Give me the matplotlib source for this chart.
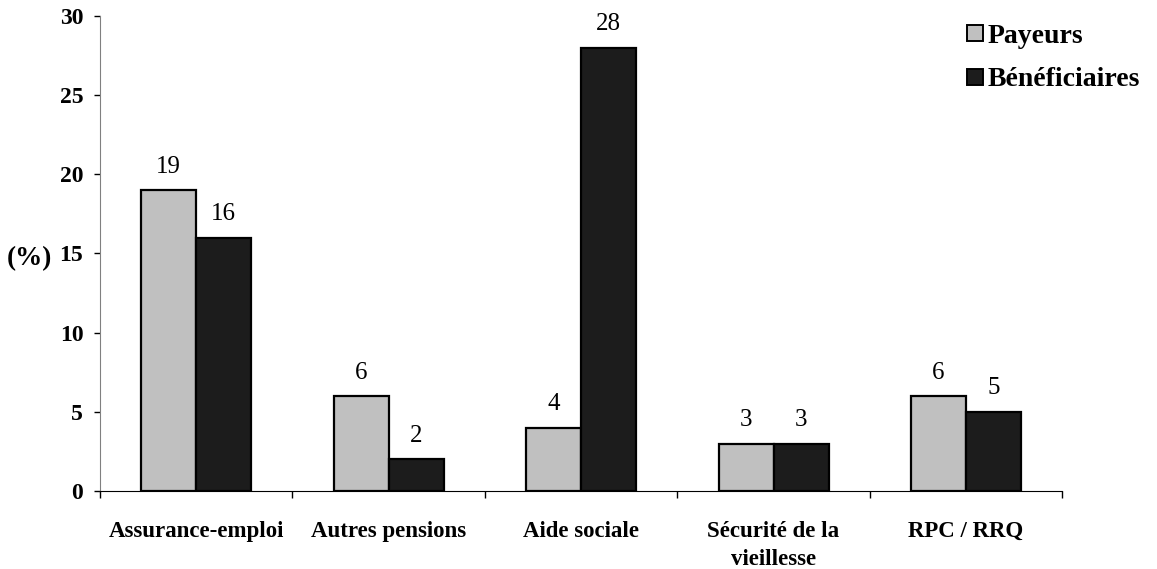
import numpy as np
import matplotlib
matplotlib.use("Agg")
import matplotlib.pyplot as plt
from matplotlib.lines import Line2D

plt.rcParams['font.family'] = ['Liberation Serif', 'DejaVu Serif']

categories = ['Assurance-emploi', 'Autres pensions', 'Aide sociale',
              'Sécurité de la\nvieillesse', 'RPC / RRQ']
payeurs = [19, 6, 4, 3, 6]
beneficiaires = [16, 2, 28, 3, 5]
series_names = ['Payeurs', 'Bénéficiaires']
yticks = [0, 5, 10, 15, 20, 25, 30]

grey = '#c0c0c0'
dark = '#1c1c1c'

fig = plt.figure(figsize=(11.57, 5.69), dpi=100)
ax = fig.add_axes([0.0864, 0.137, 0.8317, 0.835])

x = np.arange(len(categories))
w = 0.286
b1 = ax.bar(x - w / 2, payeurs, w, color=grey, edgecolor='black', linewidth=1.6)
b2 = ax.bar(x + w / 2, beneficiaires, w, color=dark, edgecolor='black', linewidth=1.6)

for bars, vals in ((b1, payeurs), (b2, beneficiaires)):
    for r, v in zip(bars, vals):
        ax.annotate(str(v), (r.get_x() + r.get_width() / 2, v),
                    xytext=(0, 9), textcoords='offset points',
                    ha='center', va='bottom', fontsize=18)

ax.set_xlim(-0.5, len(categories) - 0.5)
ax.set_ylim(0, 30)
ax.set_yticks(yticks)
ax.set_yticklabels([str(t) for t in yticks], fontsize=17, fontweight='bold')

# category labels between boundary ticks
ax.set_xticks(np.arange(len(categories) + 1) - 0.5)
ax.set_xticklabels([])
ax.tick_params(axis='x', direction='out', length=5, width=1)
ax.tick_params(axis='y', direction='out', length=4, width=1, pad=8)
for i, c in enumerate(categories):
    ax.text(i, -1.9, c, ha='center', va='top', fontsize=16.5,
            fontweight='bold', linespacing=1.4)

ax.spines['top'].set_visible(False)
ax.spines['right'].set_visible(False)
ax.spines['left'].set_color('#808080')
ax.spines['bottom'].set_color('black')

fig.text(0.006, 0.545, '(%)', fontsize=19.5, fontweight='bold', va='center')

handles = [Line2D([], [], marker='s', linestyle='none', markersize=12,
                  markerfacecolor=col, markeredgecolor='black', markeredgewidth=1.4)
           for col in (grey, dark)]
leg = fig.legend(handles, series_names, loc='upper left',
                 bbox_to_anchor=(0.810, 1.003), frameon=False,
                 prop={'weight': 'bold', 'size': 20},
                 handletextpad=0.0, handlelength=0.9, labelspacing=0.65)

fig.savefig('out.png', dpi=100)
